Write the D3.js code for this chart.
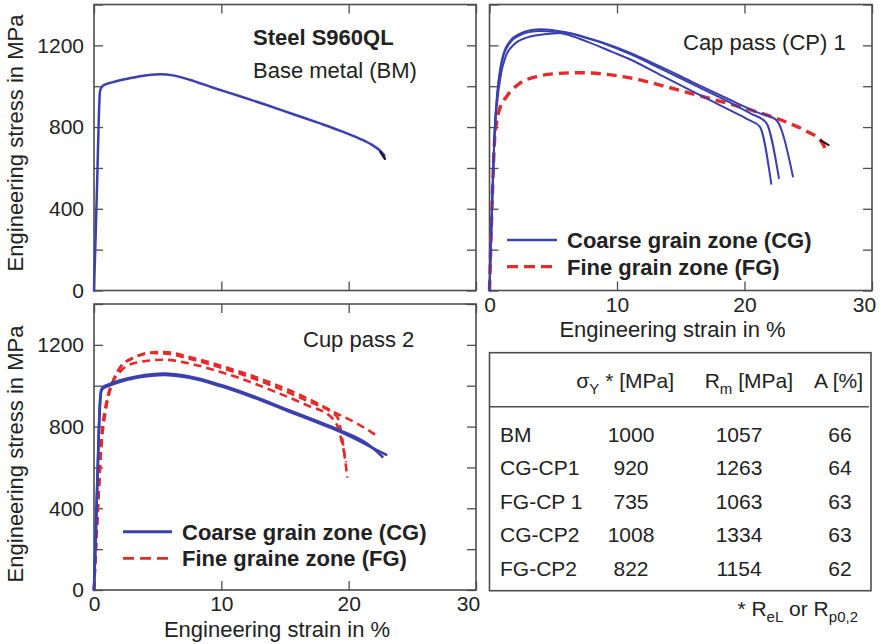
<!DOCTYPE html>
<html>
<head>
<meta charset="utf-8">
<script src="https://cdn.jsdelivr.net/npm/d3@7"></script>
<style>
  html, body { margin: 0; padding: 0; background: #fff; }
  svg { display: block; font-family: "Liberation Sans", Arial, Helvetica, sans-serif; }
</style>
</head>
<body>
<svg id="fig" width="880" height="644"></svg>
<script>
// ---- axis ticks ----
const strainTicks = [0, 10, 20, 30];
const stressTicks = [0, 200, 400, 600, 800, 1000, 1200, 1400];
const stressLabels = [0, 400, 800, 1200];

// ---- stress-strain curves: [strain %, stress MPa] ----
const bmCurve = [[0,0],[0.12,250],[0.26,560],[0.38,850],[0.47,975],[0.6,995],[0.86,1008],[1.5,1020],[2.5,1035],[3.5,1048],[4.5,1056],[5.2,1058],[6.2,1053],[7.5,1032],[9.3,994],[11.4,952],[13.5,909],[15.6,864],[17.7,819],[19.3,783],[20.8,745],[21.8,714],[22.4,688],[22.8,662]];
const bmTail = [[22.5,678],[22.85,645]];

const cp1CoarseA = [[0,0],[0.2,420],[0.4,780],[0.6,960],[0.85,1090],[1.1,1160],[1.6,1220],[2.4,1258],[3.2,1274],[4.0,1279],[5.0,1274],[6.0,1264],[7.5,1240],[9.7,1196],[11,1164],[13.5,1093],[16,1018],[18.8,935],[21,872],[22.5,834],[23.8,558]];
const cp1CoarseB = [[0,0],[0.2,410],[0.4,760],[0.6,920],[0.9,1060],[1.3,1150],[1.9,1203],[2.9,1238],[4.5,1256],[6.0,1260],[7.5,1238],[9.7,1192],[11,1158],[13.5,1084],[16,1008],[18.8,922],[20.5,866],[21.7,822],[22.7,550]];
const cp1CoarseC = [[0,0],[0.2,420],[0.4,775],[0.6,955],[0.85,1080],[1.1,1150],[1.6,1212],[2.4,1250],[3.2,1266],[4.0,1270],[5.0,1266],[6.0,1254],[7.5,1222],[9.7,1166],[11,1132],[13.5,1052],[16.2,966],[18.8,884],[20.3,836],[21.2,802],[22.1,522]];
const cp1Fine = [[0,0],[0.2,420],[0.4,740],[0.55,820],[0.8,890],[1.35,950],[2.39,1015],[3.7,1047],[5.26,1062],[7.1,1066],[9.7,1054],[11.8,1031],[13.6,1002],[16.2,958],[18.8,914],[21.4,866],[23.5,819],[25.1,772],[25.9,740],[26.4,689]];
const cp1FineTail = [[26.0,735],[26.6,712]];

const cp2CoarseA = [[0,0],[0.15,300],[0.3,620],[0.45,900],[0.57,980],[0.75,995],[1.1,1005],[2.0,1025],[3.45,1046],[5.5,1059],[7.4,1046],[9.97,1003],[12.1,958],[15.3,880],[17.5,827],[19.3,782],[21.4,718],[22.1,684],[22.65,652]];
const cp2CoarseB = [[0,0],[0.15,290],[0.3,600],[0.45,880],[0.6,978],[0.8,990],[1.1,998],[2.0,1018],[3.45,1040],[5.5,1053],[7.4,1040],[9.97,997],[12.1,952],[15.3,874],[17.5,821],[19.3,776],[21.4,712],[22.3,682],[22.95,662]];
const cp2FineA = [[0,0],[0.3,420],[0.6,760],[0.85,880],[1.1,955],[1.49,1020],[2.1,1094],[3.2,1138],[4.2,1160],[5.5,1165],[7.4,1142],[9.97,1098],[11.4,1070],[14.0,1012],[16.7,940],[19.0,866],[20.6,817],[22.1,760]];
const cp2FineB = [[0,0],[0.3,400],[0.6,740],[0.9,880],[1.2,965],[1.6,1040],[2.2,1100],[3.2,1140],[4.5,1160],[5.5,1158],[7.4,1134],[10,1088],[11.4,1060],[14,1000],[16.7,927],[18.8,864],[19.1,848],[19.9,550]];
const cp2FineC = [[0,0],[0.3,380],[0.6,720],[0.9,870],[1.3,990],[2.0,1065],[3.2,1111],[5.5,1127],[7.4,1110],[10.0,1066],[11.4,1038],[14,976],[16.7,905],[18.6,848],[19.1,805],[19.8,625]];

// ---- property table ----
const tableRows = ["BM", "CG-CP1", "FG-CP 1", "CG-CP2", "FG-CP2"];
const yieldStress = [1000, 920, 735, 1008, 822];
const tensileStrength = [1057, 1263, 1063, 1334, 1154];
const elongation = [66, 64, 63, 63, 62];

// ---- styling ----
const BLUE = "#3b40b0", RED = "#e42a2a", INK = "#222", FRAME = "#4d4d4d";
const svg = d3.select("#fig");

function panel(box, opts) {
  const x = d3.scaleLinear().domain([0, 30]).range([box.x0, box.x1]);
  const y = d3.scaleLinear().domain([0, 1400]).range([box.y1, box.y0]);
  const g = svg.append("g");
  const tk = 9;

  g.append("g").attr("transform", `translate(${box.x0},0)`)
    .call(d3.axisLeft(y).tickValues(stressTicks).tickSize(-tk).tickPadding(10)
      .tickFormat(d => (opts.yLabels && stressLabels.includes(d)) ? d : ""));
  g.append("g").attr("transform", `translate(${box.x1},0)`)
    .call(d3.axisRight(y).tickValues(stressTicks).tickSize(-tk).tickFormat(""));
  g.append("g").attr("transform", `translate(0,${box.y0})`)
    .call(d3.axisTop(x).tickValues(strainTicks).tickSize(-tk).tickFormat(""));
  const bottom = g.append("g").attr("transform", `translate(0,${box.y1})`)
    .call(d3.axisBottom(x).tickValues(strainTicks).tickSize(-tk).tickPadding(6.5)
      .tickFormat(d => opts.xLabels ? d : ""));
  bottom.selectAll(".tick text").filter(d => d === 30).attr("x", -8);

  g.selectAll(".domain").remove();
  g.selectAll(".tick line").attr("stroke", FRAME).attr("stroke-width", 1.3);
  g.selectAll(".tick text").attr("fill", INK).attr("font-size", 21)
    .attr("font-family", '"Liberation Sans", Arial, sans-serif');

  g.append("rect")
    .attr("x", box.x0).attr("y", box.y0)
    .attr("width", box.x1 - box.x0).attr("height", box.y1 - box.y0)
    .attr("fill", "none").attr("stroke", FRAME).attr("stroke-width", 1.6);

  const line = d3.line().x(d => x(d[0])).y(d => y(d[1])).curve(d3.curveMonotoneX);
  return { g, x, y, line };
}

function curve(p, data, color, width, dash) {
  p.g.append("path").datum(data).attr("d", p.line)
    .attr("fill", "none").attr("stroke", color).attr("stroke-width", width)
    .attr("stroke-linejoin", "round").attr("stroke-linecap", dash ? "butt" : "round")
    .attr("stroke-dasharray", dash || null);
}

function label(txt, x, y, size, weight, anchor) {
  return svg.append("text").attr("x", x).attr("y", y).attr("font-size", size)
    .attr("font-weight", weight || "normal").attr("text-anchor", anchor || "start")
    .attr("fill", INK).text(txt);
}

// ---- panel 1: base metal ----
const p1 = panel({ x0: 94, x1: 476, y0: 4.5, y1: 290.5 }, { yLabels: true, xLabels: false });
curve(p1, bmCurve, BLUE, 2.5);
curve(p1, bmTail, "#1a1a2a", 2.5);
label("Steel S960QL", 253, 44.5, 22, "bold");
label("Base metal (BM)", 253, 78, 22);

// ---- panel 2: cap pass 1 ----
const p2 = panel({ x0: 489.5, x1: 872, y0: 4.5, y1: 290.5 }, { yLabels: false, xLabels: true });
curve(p2, cp1Fine, RED, 3.4, "10,6");
curve(p2, cp1FineTail, "#1a1a1a", 2);
[cp1CoarseA, cp1CoarseB, cp1CoarseC].forEach(c => curve(p2, c, BLUE, 2));
label("Cap pass (CP) 1", 683, 49.5, 22);
svg.append("line").attr("x1", 507).attr("x2", 557).attr("y1", 240).attr("y2", 240)
  .attr("stroke", BLUE).attr("stroke-width", 2.5);
label("Coarse grain zone (CG)", 567, 248, 22, "bold");
svg.append("line").attr("x1", 507).attr("x2", 557).attr("y1", 266.7).attr("y2", 266.7)
  .attr("stroke", RED).attr("stroke-width", 3.2).attr("stroke-dasharray", "11,6");
label("Fine grain zone (FG)", 567, 274.5, 22, "bold");
label("Engineering strain in %", 672.5, 337, 22, "normal", "middle");

// ---- panel 3: cap pass 2 ----
const p3 = panel({ x0: 94, x1: 476, y0: 304, y1: 590 }, { yLabels: true, xLabels: true });
[cp2FineA, cp2FineB, cp2FineC].forEach(c => curve(p3, c, RED, 2.6, "8,5"));
[cp2CoarseA, cp2CoarseB].forEach(c => curve(p3, c, BLUE, 2.6));
label("Cup pass 2", 303, 347, 22);
svg.append("line").attr("x1", 123).attr("x2", 172).attr("y1", 531.7).attr("y2", 531.7)
  .attr("stroke", BLUE).attr("stroke-width", 3);
label("Coarse grain zone (CG)", 182, 539.5, 22, "bold");
svg.append("line").attr("x1", 123).attr("x2", 172).attr("y1", 558.3).attr("y2", 558.3)
  .attr("stroke", RED).attr("stroke-width", 2.8).attr("stroke-dasharray", "11,6");
label("Fine graine zone (FG)", 182, 566, 22, "bold");
label("Engineering strain in %", 277, 637, 22, "normal", "middle");

// ---- y axis titles ----
[[22.5, 143], [22.5, 454]].forEach(([cx, cy]) => {
  svg.append("text").attr("transform", `translate(${cx},${cy}) rotate(-90)`)
    .attr("text-anchor", "middle").attr("font-size", 22).attr("fill", INK)
    .text("Engineering stress in MPa");
});

// ---- property table ----
const tb = svg.append("g");
tb.append("rect").attr("x", 489.5).attr("y", 352.7).attr("width", 381.5).attr("height", 238)
  .attr("fill", "none").attr("stroke", FRAME).attr("stroke-width", 1.6);
tb.append("line").attr("x1", 489.5).attr("x2", 869).attr("y1", 406.7).attr("y2", 406.7)
  .attr("stroke", FRAME).attr("stroke-width", 1.6);

function subText(g, x, y, parts, anchor, size) {
  const t = g.append("text").attr("x", x).attr("y", y).attr("font-size", size)
    .attr("text-anchor", anchor).attr("fill", INK);
  let shift = 0;
  parts.forEach(([s, sub]) => {
    const want = sub ? 6 : 0;
    t.append("tspan").attr("dy", want - shift).attr("font-size", sub ? 15 : size).text(s);
    shift = want;
  });
  return t;
}
subText(tb, 674, 388, [["σ"], ["Y", true], [" * [MPa]"]], "end", 21);
subText(tb, 793, 388, [["R"], ["m", true], [" [MPa]"]], "end", 21);
subText(tb, 863, 388, [["A [%]"]], "end", 21);

const rowY = d3.scalePoint().domain(tableRows).range([441.5, 575.5]);
tableRows.forEach((r, i) => {
  const yy = rowY(r);
  tb.append("text").attr("x", 500).attr("y", yy).attr("font-size", 21).attr("fill", INK).text(r);
  tb.append("text").attr("x", 631).attr("y", yy).attr("font-size", 21).attr("fill", INK)
    .attr("text-anchor", "middle").text(yieldStress[i]);
  tb.append("text").attr("x", 739).attr("y", yy).attr("font-size", 21).attr("fill", INK)
    .attr("text-anchor", "middle").text(tensileStrength[i]);
  tb.append("text").attr("x", 840).attr("y", yy).attr("font-size", 21).attr("fill", INK)
    .attr("text-anchor", "middle").text(elongation[i]);
});
subText(tb, 858, 616, [["* R"], ["eL", true], [" or R"], ["p0,2", true]], "end", 21);
</script>
</body>
</html>
